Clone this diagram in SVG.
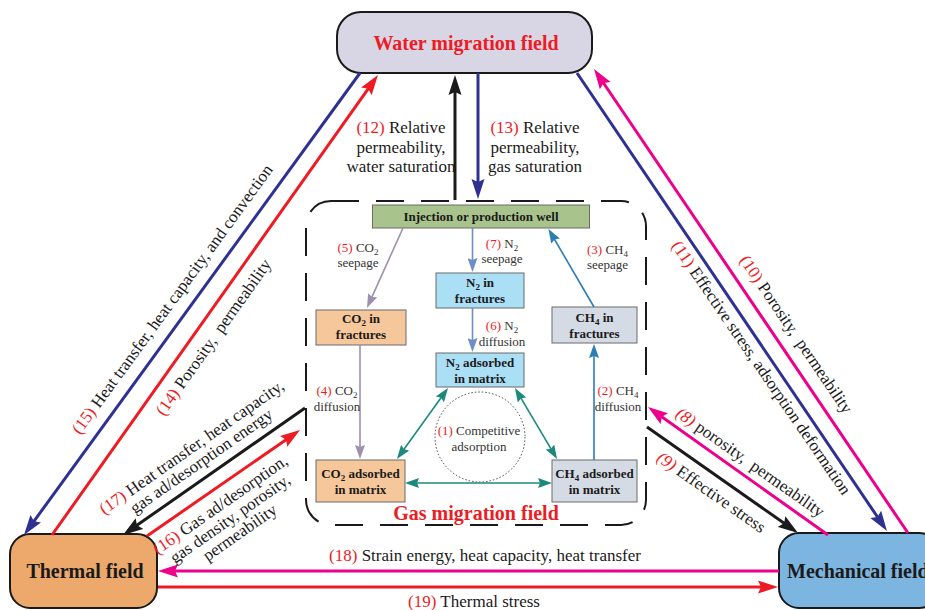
<svg xmlns="http://www.w3.org/2000/svg" width="925" height="610" viewBox="0 0 925 610">
<style>
.lbl{font-family:"Liberation Serif","Times New Roman",serif;font-size:17px;fill:#1a1a1a}
.sm{font-family:"Liberation Serif","Times New Roman",serif;font-size:13px;fill:#333}
.bx{font-family:"Liberation Serif","Times New Roman",serif;font-size:13px;font-weight:bold;fill:#1a1a1a;text-anchor:middle}
.ttl{font-family:"Liberation Serif","Times New Roman",serif;font-size:20px;font-weight:bold}
.r{fill:#ed1c24}
.box{stroke:#6b6b6b;stroke-width:1}
.big{fill:none;stroke-width:3}
.in{fill:none;stroke-width:1.6}
</style>
<defs>
<marker id="mK" markerUnits="userSpaceOnUse" markerWidth="20" markerHeight="14" viewBox="0 0 20 14" refX="14" refY="7" orient="auto"><path d="M0,0.5 L20,7 L0,13.5 L3,7 z" fill="#1a1a1a"/></marker>
<marker id="mN" markerUnits="userSpaceOnUse" markerWidth="20" markerHeight="14" viewBox="0 0 20 14" refX="14" refY="7" orient="auto"><path d="M0,0.5 L20,7 L0,13.5 L3,7 z" fill="#2e3192"/></marker>
<marker id="mR" markerUnits="userSpaceOnUse" markerWidth="20" markerHeight="14" viewBox="0 0 20 14" refX="14" refY="7" orient="auto"><path d="M0,0.5 L20,7 L0,13.5 L3,7 z" fill="#ed1c24"/></marker>
<marker id="mM" markerUnits="userSpaceOnUse" markerWidth="20" markerHeight="14" viewBox="0 0 20 14" refX="14" refY="7" orient="auto"><path d="M0,0.5 L20,7 L0,13.5 L3,7 z" fill="#ec008c"/></marker>
<marker id="iP" markerUnits="userSpaceOnUse" markerWidth="14" markerHeight="10" viewBox="0 0 14 10" refX="10" refY="5" orient="auto"><path d="M0,0 L14,5 L0,10 L2,5 z" fill="#9d90ad"/></marker>
<marker id="iB" markerUnits="userSpaceOnUse" markerWidth="14" markerHeight="10" viewBox="0 0 14 10" refX="10" refY="5" orient="auto"><path d="M0,0 L14,5 L0,10 L2,5 z" fill="#6e8fc6"/></marker>
<marker id="iC" markerUnits="userSpaceOnUse" markerWidth="14" markerHeight="10" viewBox="0 0 14 10" refX="10" refY="5" orient="auto"><path d="M0,0 L14,5 L0,10 L2,5 z" fill="#2a7db5"/></marker>
<marker id="iT" markerUnits="userSpaceOnUse" markerWidth="14" markerHeight="10" viewBox="0 0 14 10" refX="10" refY="5" orient="auto-start-reverse"><path d="M0,0 L14,5 L0,10 L2,5 z" fill="#1b8a7b"/></marker>
</defs>

<!-- Gas migration field container -->
<g id="gas-field">
<rect x="306" y="201" width="340" height="324" rx="25" fill="none" stroke="#1a1a1a" stroke-width="2" stroke-dasharray="28 17"/>
<text class="ttl r" x="476" y="520" text-anchor="middle">Gas migration field</text>
</g>

<g id="water-field">
<rect x="337" y="12" width="255" height="61" rx="24" fill="#d8d5e5" stroke="#1a1a1a" stroke-width="2"/>
<text class="ttl r" x="466" y="50" text-anchor="middle">Water migration field</text>
</g>
<g id="thermal-field">
<rect x="10" y="534" width="147" height="74" rx="20" fill="#eda96b" stroke="#1a1a1a" stroke-width="2"/>
<text class="ttl" x="85" y="578" text-anchor="middle" fill="#1a1a1a">Thermal field</text>
</g>
<g id="mechanical-field">
<rect x="779" y="533" width="160" height="75" rx="20" fill="#7db5e1" stroke="#1a1a1a" stroke-width="2"/>
<text class="ttl" x="787" y="578" fill="#1a1a1a">Mechanical field</text>
</g>

<g id="well">
<rect class="box" x="372.5" y="205" width="217" height="23" fill="#a9c38c"/>
<text class="bx" x="481" y="221">Injection or production well</text>
</g>
<g id="co2-fractures">
<rect class="box" x="316" y="310" width="90" height="35" fill="#f6c79b"/>
<text class="bx" x="361" y="323">CO<tspan font-size="9" dy="2.5">2</tspan><tspan dy="-2.5"> in</tspan></text>
<text class="bx" x="361" y="339">fractures</text>
</g>
<g id="n2-fractures">
<rect class="box" x="436" y="273" width="88" height="35" fill="#aadff6"/>
<text class="bx" x="480" y="287">N<tspan font-size="9" dy="2.5">2</tspan><tspan dy="-2.5"> in</tspan></text>
<text class="bx" x="480" y="303">fractures</text>
</g>
<g id="ch4-fractures">
<rect class="box" x="552" y="307" width="85" height="36" fill="#d5dbe5"/>
<text class="bx" x="594.5" y="322">CH<tspan font-size="9" dy="2.5">4</tspan><tspan dy="-2.5"> in</tspan></text>
<text class="bx" x="594.5" y="338">fractures</text>
</g>
<g id="n2-adsorbed">
<rect class="box" x="436" y="353" width="88" height="34" fill="#aadff6"/>
<text class="bx" x="480" y="367">N<tspan font-size="9" dy="2.5">2</tspan><tspan dy="-2.5"> adsorbed</tspan></text>
<text class="bx" x="480" y="383">in matrix</text>
</g>
<g id="co2-adsorbed">
<rect class="box" x="316" y="460" width="89" height="42" fill="#f6c79b"/>
<text class="bx" x="360.5" y="478">CO<tspan font-size="9" dy="2.5">2</tspan><tspan dy="-2.5"> adsorbed</tspan></text>
<text class="bx" x="360.5" y="494">in matrix</text>
</g>
<g id="ch4-adsorbed">
<rect class="box" x="552" y="460" width="85" height="42" fill="#d5dbe5"/>
<text class="bx" x="594.5" y="478">CH<tspan font-size="9" dy="2.5">4</tspan><tspan dy="-2.5"> adsorbed</tspan></text>
<text class="bx" x="594.5" y="494">in matrix</text>
</g>
<g id="competitive-adsorption">
<circle cx="480" cy="437" r="45" fill="none" stroke="#444" stroke-width="1" stroke-dasharray="1.5 2"/>
<text class="sm" x="479" y="435" text-anchor="middle"><tspan class="r">(1)</tspan> Competitive</text>
<text class="sm" x="479" y="451" text-anchor="middle">adsorption</text>
</g>

<g id="connectors">
<!-- inner gas connectors -->
<path class="in" d="M403,228 L368.6,304.4" stroke="#9d90ad" marker-end="url(#iP)"/>
<path class="in" d="M472.5,228 L472.5,268" stroke="#6e8fc6" marker-end="url(#iB)"/>
<path class="in" d="M594,307 L550.5,232.5" stroke="#2a7db5" marker-end="url(#iC)"/>
<path class="in" d="M472.5,308 L472.5,348" stroke="#6e8fc6" marker-end="url(#iB)"/>
<path class="in" d="M360,345 L360,455" stroke="#9d90ad" marker-end="url(#iP)"/>
<path class="in" d="M594,460 L594,348" stroke="#2a7db5" marker-end="url(#iC)"/>
<path class="in" d="M399.3,455.8 L445.7,391.2" stroke="#1b8a7b" marker-start="url(#iT)" marker-end="url(#iT)"/>
<path class="in" d="M517,391.4 L555,455.6" stroke="#1b8a7b" marker-start="url(#iT)" marker-end="url(#iT)"/>
<path class="in" d="M409,483 L548,483" stroke="#1b8a7b" marker-start="url(#iT)" marker-end="url(#iT)"/>

<!-- big field connectors -->
<path class="big" d="M455,200 L455,81" stroke="#1a1a1a" marker-end="url(#mK)"/>
<path class="big" d="M478,73 L478,193" stroke="#2e3192" marker-end="url(#mN)"/>
<path class="big" d="M360,73 L27.5,530.1" stroke="#2e3192" marker-end="url(#mN)"/>
<path class="big" d="M52,535 L374.5,79.9" stroke="#ed1c24" marker-end="url(#mR)"/>
<path class="big" d="M577,73 L883.6,526" stroke="#2e3192" marker-end="url(#mN)"/>
<path class="big" d="M908,533 L597.4,74" stroke="#ec008c" marker-end="url(#mM)"/>
<path class="big" d="M305,408 L127.9,531.6" stroke="#1a1a1a" marker-end="url(#mK)"/>
<path class="big" d="M147,536 L295.1,433.4" stroke="#ed1c24" marker-end="url(#mR)"/>
<path class="big" d="M828,535 L652.9,410.5" stroke="#ec008c" marker-end="url(#mM)"/>
<path class="big" d="M647,427 L793.1,529.6" stroke="#1a1a1a" marker-end="url(#mK)"/>
<path class="big" d="M779,571 L164,571" stroke="#ec008c" marker-end="url(#mM)"/>
<path class="big" d="M158,587 L772,587" stroke="#ed1c24" marker-end="url(#mR)"/>
</g>

<g id="labels">
<text class="sm" x="358" y="252" text-anchor="middle"><tspan class="r">(5)</tspan> CO<tspan font-size="9" dy="2.5">2</tspan></text>
<text class="sm" x="358" y="267" text-anchor="middle">seepage</text>
<text class="sm" x="502" y="248" text-anchor="middle"><tspan class="r">(7)</tspan> N<tspan font-size="9" dy="2.5">2</tspan></text>
<text class="sm" x="502" y="263" text-anchor="middle">seepage</text>
<text class="sm" x="607.5" y="254" text-anchor="middle"><tspan class="r">(3)</tspan> CH<tspan font-size="9" dy="2.5">4</tspan></text>
<text class="sm" x="607.5" y="269" text-anchor="middle">seepage</text>
<text class="sm" x="502" y="330" text-anchor="middle"><tspan class="r">(6)</tspan> N<tspan font-size="9" dy="2.5">2</tspan></text>
<text class="sm" x="502" y="346" text-anchor="middle">diffusion</text>
<text class="sm" x="337" y="395" text-anchor="middle"><tspan class="r">(4)</tspan> CO<tspan font-size="9" dy="2.5">2</tspan></text>
<text class="sm" x="337" y="411" text-anchor="middle">diffusion</text>
<text class="sm" x="618" y="395" text-anchor="middle"><tspan class="r">(2)</tspan> CH<tspan font-size="9" dy="2.5">4</tspan></text>
<text class="sm" x="618" y="411" text-anchor="middle">diffusion</text>

<text class="lbl" text-anchor="middle"><tspan x="401" y="133"><tspan class="r">(12)</tspan> Relative</tspan><tspan x="401" y="152.5">permeability,</tspan><tspan x="401" y="172">water saturation</tspan></text>
<text class="lbl" text-anchor="middle"><tspan x="535" y="133"><tspan class="r">(13)</tspan> Relative</tspan><tspan x="535" y="152.5">permeability,</tspan><tspan x="535" y="172">gas saturation</tspan></text>

<text class="lbl" text-anchor="middle" transform="translate(176.8,302.5) rotate(-53.9)"><tspan class="r">(15)</tspan> Heat transfer, heat capacity, and convection</text>
<text class="lbl" text-anchor="middle" transform="translate(218,340.4) rotate(-54.7)"><tspan class="r">(14)</tspan> Porosity,&#160; permeability</text>
<text class="lbl" text-anchor="middle" transform="translate(791.5,337.4) rotate(55.8)"><tspan class="r">(10)</tspan> Porosity,&#160; permeability</text>
<text class="lbl" text-anchor="middle" transform="translate(756.8,370.9) rotate(55.6)"><tspan class="r">(11)</tspan> Effective stress, adsorption deformation</text>
<text class="lbl" text-anchor="middle" transform="translate(747.1,466.8) rotate(35.2)"><tspan class="r" font-style="italic">(8)</tspan> porosity,&#160; permeability</text>
<text class="lbl" text-anchor="middle" transform="translate(708.1,496.7) rotate(35)"><tspan class="r" font-style="italic">(9)</tspan> Effective stress</text>
<text class="lbl" text-anchor="middle" transform="translate(194.8,451.7) rotate(-35)"><tspan x="0" y="0"><tspan class="r">(17)</tspan> Heat transfer, heat capacity,</tspan><tspan x="0" y="17">gas ad/desorption energy</tspan></text>
<text class="lbl" text-anchor="middle" transform="translate(223.4,509.2) rotate(-35)"><tspan x="0" y="0"><tspan class="r">(16)</tspan> Gas ad/desorption,</tspan><tspan x="0" y="17">gas density, porosity,</tspan><tspan x="0" y="34">permeability</tspan></text>
<text class="lbl" x="485" y="561" text-anchor="middle"><tspan class="r">(18)</tspan> Strain energy, heat capacity, heat transfer</text>
<text class="lbl" x="474" y="607" text-anchor="middle"><tspan class="r">(19)</tspan> Thermal stress</text>
</g>
</svg>
